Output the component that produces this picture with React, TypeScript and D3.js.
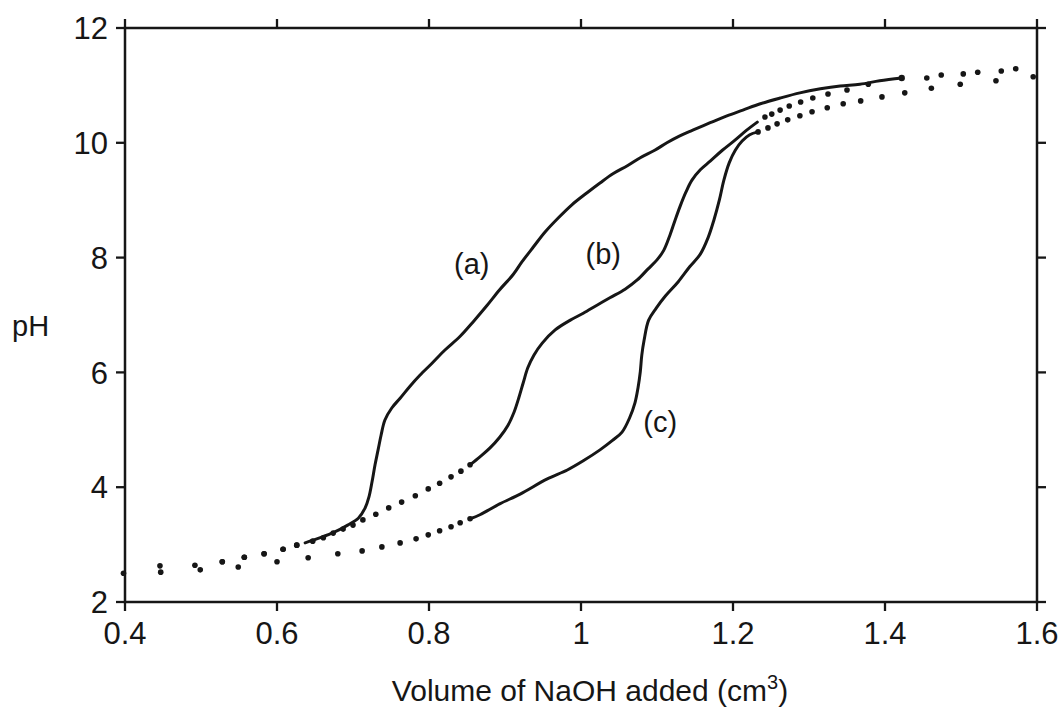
import React from 'react';
import * as d3 from 'd3';

// [volume cm3, pH]
// curve (a): sparse start dots, then the dense run that reads as a line
const aDots: [number, number][] = [
  [0.398, 2.5], [0.446, 2.63], [0.492, 2.64], [0.528, 2.7], [0.557, 2.78],
  [0.583, 2.84], [0.608, 2.92], [0.626, 2.99],
];
const aTrace: [number, number][] = [
  [0.637, 3.03], [0.657, 3.12], [0.676, 3.22], [0.693, 3.34], [0.707, 3.46],
  [0.716, 3.64], [0.721, 3.83], [0.725, 4.09], [0.729, 4.39], [0.733, 4.65],
  [0.737, 4.91], [0.742, 5.17], [0.751, 5.38], [0.762, 5.55], [0.775, 5.76],
  [0.788, 5.95], [0.804, 6.16], [0.821, 6.39], [0.841, 6.63], [0.858, 6.88],
  [0.876, 7.16], [0.893, 7.44], [0.911, 7.71], [0.922, 7.92], [0.937, 8.18],
  [0.953, 8.45], [0.97, 8.69], [0.988, 8.92], [1.008, 9.13], [1.025, 9.3],
  [1.042, 9.46], [1.061, 9.6], [1.078, 9.74], [1.097, 9.87], [1.113, 10.0],
  [1.13, 10.12], [1.147, 10.22], [1.17, 10.35], [1.192, 10.47], [1.213, 10.57],
  [1.236, 10.68], [1.262, 10.78], [1.288, 10.87], [1.315, 10.94], [1.341, 10.99],
  [1.367, 11.02], [1.393, 11.08], [1.422, 11.13],
];

// curve (b)
const bDots: [number, number][] = [
  [0.447, 2.52], [0.499, 2.56], [0.528, 2.7], [0.557, 2.78], [0.583, 2.84],
  [0.608, 2.92], [0.626, 2.99], [0.647, 3.06], [0.661, 3.12], [0.674, 3.2],
  [0.687, 3.27], [0.7, 3.34], [0.713, 3.43], [0.73, 3.53], [0.747, 3.64],
  [0.764, 3.74], [0.782, 3.85], [0.799, 3.97], [0.814, 4.07], [0.829, 4.18],
  [0.842, 4.28], [0.854, 4.39],
  [1.242, 10.45], [1.251, 10.5], [1.262, 10.57], [1.274, 10.64], [1.289, 10.71],
  [1.305, 10.78], [1.325, 10.85], [1.35, 10.92], [1.378, 11.02], [1.455, 11.13],
  [1.474, 11.18], [1.503, 11.2], [1.522, 11.23], [1.553, 11.25], [1.572, 11.29],
  [1.595, 11.15],
];
const bTrace: [number, number][] = [
  [0.854, 4.39], [0.867, 4.53], [0.88, 4.68], [0.893, 4.87], [0.904, 5.08],
  [0.912, 5.31], [0.918, 5.55], [0.924, 5.82], [0.93, 6.08], [0.938, 6.3],
  [0.949, 6.51], [0.966, 6.74], [0.986, 6.91], [1.003, 7.03], [1.021, 7.17],
  [1.038, 7.3], [1.058, 7.45], [1.074, 7.61], [1.088, 7.8], [1.1, 7.96],
  [1.109, 8.13], [1.117, 8.39], [1.124, 8.66], [1.13, 8.88], [1.138, 9.14],
  [1.146, 9.35], [1.157, 9.53], [1.17, 9.68], [1.186, 9.87], [1.203, 10.05],
  [1.218, 10.22], [1.232, 10.36],
];

// curve (c)
const cDots: [number, number][] = [
  [0.549, 2.61], [0.6, 2.7], [0.641, 2.77], [0.68, 2.84], [0.712, 2.89],
  [0.738, 2.96], [0.762, 3.03], [0.783, 3.1], [0.799, 3.17], [0.814, 3.24],
  [0.829, 3.31], [0.841, 3.38], [0.854, 3.45],
  [1.233, 10.19], [1.246, 10.26], [1.258, 10.33], [1.272, 10.4], [1.288, 10.47],
  [1.304, 10.54], [1.324, 10.61], [1.345, 10.68], [1.368, 10.73], [1.396, 10.8],
  [1.426, 10.87], [1.461, 10.95], [1.499, 11.02], [1.546, 11.08],
];
const cTrace: [number, number][] = [
  [0.854, 3.45], [0.867, 3.52], [0.893, 3.71], [0.92, 3.88], [0.955, 4.14],
  [0.982, 4.3], [1.003, 4.46], [1.025, 4.65], [1.041, 4.81], [1.054, 4.96],
  [1.064, 5.21], [1.071, 5.47], [1.075, 5.73], [1.078, 6.01], [1.08, 6.3],
  [1.083, 6.56], [1.089, 6.91], [1.099, 7.12], [1.111, 7.33], [1.128, 7.58],
  [1.143, 7.84], [1.157, 8.06], [1.167, 8.34], [1.175, 8.66], [1.182, 9.0],
  [1.188, 9.35], [1.195, 9.65], [1.203, 9.87], [1.212, 10.03], [1.222, 10.14],
  [1.233, 10.19],
];

const xTicks = [0.4, 0.6, 0.8, 1, 1.2, 1.4, 1.6];
const yTicks = [2, 4, 6, 8, 10, 12];

const labels = [
  { text: '(a)', v: 0.833, ph: 7.72 },
  { text: '(b)', v: 1.006, ph: 7.88 },
  { text: '(c)', v: 1.082, ph: 4.97 },
];

const W = 1060;
const H = 713;
const ink = '#161616';
const font = '"Liberation Sans", Arial, Helvetica, sans-serif';

export default function App() {
  const x = d3.scaleLinear().domain([0.4, 1.6]).range([125, 1037]);
  const y = d3.scaleLinear().domain([2, 12]).range([602, 28]);

  const line = d3.line<[number, number]>()
    .x(d => x(d[0]))
    .y(d => y(d[1]))
    .curve(d3.curveCatmullRom);

  const traces = [aTrace, bTrace, cTrace];
  const dots = [aDots, bDots, cDots];
  const tick = 9;

  return (
    <div style={{ position: 'absolute', left: 0, top: 0, background: '#fff' }}>
      <svg width={W} height={H} style={{ display: 'block', fontFamily: font }}>
        <rect width={W} height={H} fill="#fff" />

        {/* frame */}
        <rect x={x(0.4)} y={y(12)} width={x(1.6) - x(0.4)} height={y(2) - y(12)}
          fill="none" stroke={ink} strokeWidth={2.5} />

        {/* ticks, outward on all four sides */}
        {xTicks.map(t => (
          <g key={'xt' + t}>
            <line x1={x(t)} x2={x(t)} y1={y(2)} y2={y(2) + tick} stroke={ink} strokeWidth={2.3} />
            <line x1={x(t)} x2={x(t)} y1={y(12)} y2={y(12) - tick} stroke={ink} strokeWidth={2.3} />
            <text x={x(t)} y={644} textAnchor="middle" fontSize={31} fill={ink}>{String(t)}</text>
          </g>
        ))}
        {yTicks.map(t => (
          <g key={'yt' + t}>
            <line x1={x(0.4)} x2={x(0.4) - tick} y1={y(t)} y2={y(t)} stroke={ink} strokeWidth={2.3} />
            <line x1={x(1.6)} x2={x(1.6) + tick} y1={y(t)} y2={y(t)} stroke={ink} strokeWidth={2.3} />
            <text x={108} y={y(t)} dy="0.36em" textAnchor="end" fontSize={31} fill={ink}>{t}</text>
          </g>
        ))}

        {/* curves */}
        {traces.map((tr, i) => (
          <path key={'tr' + i} d={line(tr) || ''} fill="none" stroke={ink}
            strokeWidth={3} strokeLinecap="round" strokeLinejoin="round" />
        ))}
        {dots.map((ds, i) => (
          <g key={'ds' + i}>
            {ds.map((d, j) => (
              <circle key={j} cx={x(d[0])} cy={y(d[1])} r={2.8} fill={ink} />
            ))}
          </g>
        ))}
        <circle cx={x(aTrace[aTrace.length - 1][0])} cy={y(aTrace[aTrace.length - 1][1])} r={3.2} fill={ink} />

        {/* curve labels */}
        {labels.map(l => (
          <text key={l.text} x={x(l.v)} y={y(l.ph)} fontSize={29} fill={ink}>{l.text}</text>
        ))}

        {/* axis titles */}
        <text x={12} y={336} fontSize={29} fill={ink}>pH</text>
        <text x={590} y={701} textAnchor="middle" fontSize={30} fill={ink}>
          Volume of NaOH added (cm<tspan fontSize={20} dy={-12}>3</tspan><tspan dy={12}>)</tspan>
        </text>
      </svg>
    </div>
  );
}
